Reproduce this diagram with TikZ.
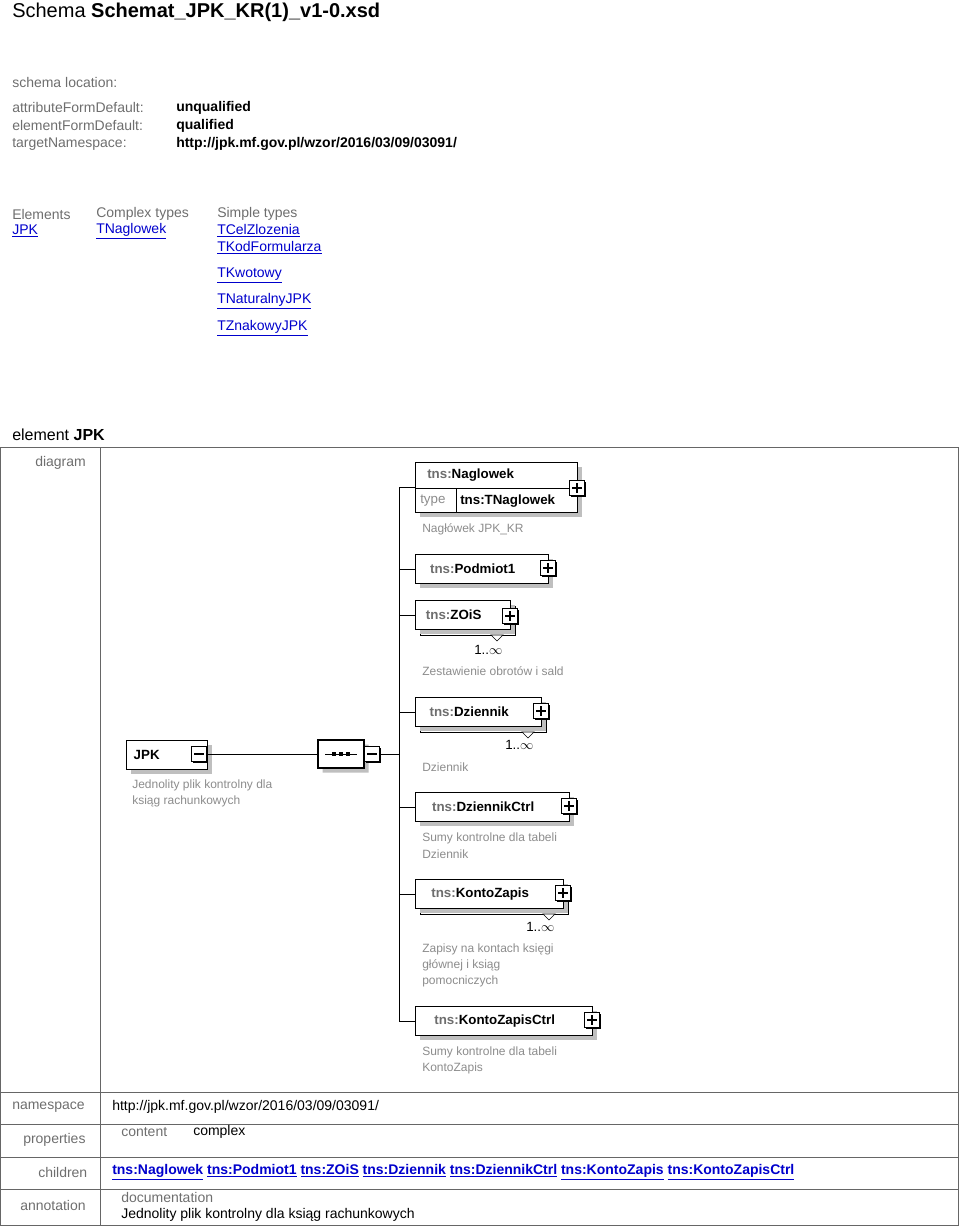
\documentclass[tikz,border=0pt]{standalone}
\usepackage{fontspec}
\setmainfont{Liberation Sans}
\usetikzlibrary{shapes.misc,shadows}
\definecolor{linkblue}{RGB}{0,0,204}
\definecolor{lbl}{RGB}{110,110,110}
\definecolor{docgray}{RGB}{140,140,140}
\tikzset{
  txt/.style={anchor=west, inner sep=0pt, font=\fontsize{10.5pt}{12pt}\selectfont},
  lab/.style={txt, text=lbl},
  lnk/.style={txt, text=linkblue},
  doc/.style={anchor=west, inner sep=0pt, text=docgray, font=\fontsize{9pt}{10pt}\selectfont},
  elem/.style={draw, thick, fill=white, anchor=north west, minimum height=21.75pt, inner sep=0pt,
    font=\bfseries\fontsize{10pt}{12pt}\selectfont, drop shadow={shadow xshift=3.5pt, shadow yshift=-3.5pt, fill=black!25, opacity=1}},
  backbox/.style={draw, thick, fill=white, anchor=north west, minimum height=21.75pt, inner sep=0pt},
  sqbox/.style={draw, thick, fill=white, minimum size=11pt, inner sep=0pt,
    drop shadow={shadow xshift=1.2pt, shadow yshift=-1.2pt, fill=black, opacity=1}},
  plusbox/.style={sqbox, path picture={
    \draw ([xshift=2pt]path picture bounding box.west) -- ([xshift=-2pt]path picture bounding box.east);
    \draw ([yshift=2pt]path picture bounding box.south) -- ([yshift=-2pt]path picture bounding box.north);}},
  minusbox/.style={sqbox, path picture={
    \draw ([xshift=2pt]path picture bounding box.west) -- ([xshift=-2pt]path picture bounding box.east);}},
  mult/.style={anchor=west, inner sep=0pt, font=\fontsize{10pt}{12pt}\selectfont},
}
\newcommand{\tns}[1]{{\color{lbl}tns:}#1}
\begin{document}
\begin{tikzpicture}[x=0.75pt, y=-0.75pt]
\useasboundingbox (0,0) rectangle (960,1226);

% header
\node[anchor=west, inner sep=0pt, font=\fontsize{15pt}{18pt}\selectfont] (title) at (12,12) {Schema \textbf{Schemat\_JPK\_KR(1)\_v1-0.xsd}};
\node[lab] (loc) at (12,83) {schema location:};
\node[lab] (afd) at (12,108) {attributeFormDefault:};
\node[lab] (efd) at (12,126) {elementFormDefault:};
\node[lab] (tns) at (12,144) {targetNamespace:};
\node[txt, font=\bfseries\fontsize{10.5pt}{12pt}\selectfont] (afdv) at (176,108) {unqualified};
\node[txt, font=\bfseries\fontsize{10.5pt}{12pt}\selectfont] (efdv) at (176,126) {qualified};
\node[txt, font=\bfseries\fontsize{10.5pt}{12pt}\selectfont] (tnsv) at (176,144) {http://jpk.mf.gov.pl/wzor/2016/03/09/03091/};

% index of components
\node[lab] (hel) at (12,214) {Elements};
\node[lab] (hct) at (96,214) {Complex types};
\node[lab] (hst) at (217,214) {Simple types};
\node[lnk] (ljpk) at (12,231) {\underline{JPK}};
\node[lnk] (ltn) at (96,231) {\underline{TNaglowek}};
\node[lnk] (l1) at (217,231) {\underline{TCelZlozenia}};
\node[lnk] (l2) at (217,248) {\underline{TKodFormularza}};
\node[lnk] (l3) at (217,275) {\underline{TKwotowy}};
\node[lnk] (l4) at (217,301) {\underline{TNaturalnyJPK}};
\node[lnk] (l5) at (217,328) {\underline{TZnakowyJPK}};

% element table
\node[anchor=west, inner sep=0pt, font=\fontsize{12pt}{14pt}\selectfont] (eltitle) at (12,435) {element \textbf{JPK}};
\draw[black!60] (0,447) rectangle (958,1225);
\draw[black!60] (100,447) -- (100,1225);
\foreach \yy in {1092,1124,1157,1189} \draw[black!60] (0,\yy) -- (958,\yy);
\node[lab] (rdia) at (35,463) {diagram};
\node[lab] (rns) at (12,1107) {namespace};
\node[lab] (rpr) at (23,1140) {properties};
\node[lab] (rch) at (38,1172) {children};
\node[lab] (ran) at (20,1205) {annotation};
\node[txt] (nsv) at (112,1107) {http://jpk.mf.gov.pl/wzor/2016/03/09/03091/};
\node[lab] (cnt) at (121,1132) {content};
\node[txt] (cntv) at (193,1132) {complex};
\node[lnk, font=\bfseries\fontsize{10.5pt}{12pt}\selectfont] (chl) at (112,1172) {\underline{tns:Naglowek} \underline{tns:Podmiot1} \underline{tns:ZOiS} \underline{tns:Dziennik} \underline{tns:DziennikCtrl} \underline{tns:KontoZapis} \underline{tns:KontoZapisCtrl}};
\node[lab] (docl) at (121,1197) {documentation};
\node[txt] (docv) at (121,1215) {Jednolity plik kontrolny dla ksiąg rachunkowych};

% diagram: root element
\node[elem, minimum width=60.75pt, text width=50pt, align=left, inner xsep=5pt] (jpk) at (126,740) {JPK};
\node[minusbox] (jpkm) at (199,754) {};
\node[doc] (jpkd1) at (132,785) {Jednolity plik kontrolny dla};
\node[doc] (jpkd2) at (132,801) {ksiąg rachunkowych};

% sequence
\node[draw, thick, fill=white, chamfered rectangle, chamfered rectangle xsep=2pt, minimum width=34.5pt, minimum height=21pt, inner sep=0pt,
  drop shadow={shadow xshift=3.5pt, shadow yshift=-3.5pt, fill=black!25, opacity=1}] (seq) at (341,754) {};
\draw ([xshift=6pt]seq.west) -- ([xshift=-6pt]seq.east);
\foreach \dx in {-5,0,5} \fill ([xshift=\dx pt]seq.center) +(-1.5pt,-1.2pt) rectangle +(1.5pt,1.2pt);
\node[minusbox] (seqm) at (372,754) {};
\draw (jpkm.east) -- (seq.west);
\coordinate (bus) at (399,754);
\draw (seqm.east) -- (bus);

% children
\node[elem, minimum width=121.5pt, minimum height=37.5pt] (nag) at (415,462) {};
\draw ([yshift=-19.5pt]nag.north west) -- ([yshift=-19.5pt]nag.north east);
\draw ([xshift=30.75pt,yshift=-19.5pt]nag.north west) -- ([xshift=30.75pt]nag.south west);
\node[anchor=west, inner sep=0pt, font=\bfseries\fontsize{10pt}{12pt}\selectfont] (nagt) at (427,475) {\tns{Naglowek}};
\node[anchor=west, inner sep=0pt, text=docgray, font=\fontsize{10pt}{12pt}\selectfont] (nagty) at (420,501) {type};
\node[anchor=west, inner sep=0pt, font=\bfseries\fontsize{10pt}{12pt}\selectfont] (nagtv) at (460,501) {tns:TNaglowek};
\node[plusbox] (nagp) at (577,488) {};
\node[doc] (nagd) at (422,529) {Nagłówek JPK\_KR};

\node[elem, minimum width=99.75pt] (pod) at (415,554) {\hspace*{-14pt}\tns{Podmiot1}};
\node[plusbox] (podp) at (548,568) {};

\node[backbox, minimum width=71.25pt] (zoisb) at (420,606) {};
\node[elem, minimum width=71.25pt] (zois) at (415,600) {\hspace*{-14pt}\tns{ZOiS}};
\node[plusbox] (zoisp) at (510,616) {};
\draw[fill=white] (491,635) -- (503,635) -- (497,641) -- cycle;
\node[mult] (zoism) at (474,650) {1..$\infty$};
\node[doc] (zoisd) at (422,671) {Zestawienie obrotów i sald};

\node[backbox, minimum width=94.5pt] (dzb) at (420,703) {};
\node[elem, minimum width=94.5pt] (dz) at (415,697) {\hspace*{-14pt}\tns{Dziennik}};
\node[plusbox] (dzp) at (541,711) {};
\draw[fill=white] (522,732) -- (534,732) -- (528,738) -- cycle;
\node[mult] (dzm) at (505,745) {1..$\infty$};
\node[doc] (dzd) at (422,767) {Dziennik};

\node[elem, minimum width=115.5pt] (dzc) at (415,792) {\hspace*{-14pt}\tns{DziennikCtrl}};
\node[plusbox] (dzcp) at (569,806) {};
\node[doc] (dzcd1) at (422,838) {Sumy kontrolne dla tabeli};
\node[doc] (dzcd2) at (422,854) {Dziennik};

\node[backbox, minimum width=111pt] (kzb) at (420,885) {};
\node[elem, minimum width=111pt] (kz) at (415,879) {\hspace*{-14pt}\tns{KontoZapis}};
\node[plusbox] (kzp) at (563,893) {};
\draw[fill=white] (543,914) -- (555,914) -- (549,920) -- cycle;
\node[mult] (kzm) at (526,927) {1..$\infty$};
\node[doc] (kzd1) at (422,949) {Zapisy na kontach księgi};
\node[doc] (kzd2) at (422,965) {głównej i ksiąg};
\node[doc] (kzd3) at (422,981) {pomocniczych};

\node[elem, minimum width=132.75pt] (kzc) at (415,1006) {\hspace*{-14pt}\tns{KontoZapisCtrl}};
\node[plusbox] (kzcp) at (592,1020) {};
\node[doc] (kzcd1) at (422,1052) {Sumy kontrolne dla tabeli};
\node[doc] (kzcd2) at (422,1068) {KontoZapis};

% connectors
\draw (bus |- nag.west) -- (bus |- kzc.west);
\foreach \ch in {nag,pod,zois,dz,dzc,kz,kzc}
  \draw (bus |- \ch.west) -- (\ch.west);
\end{tikzpicture}
\end{document}
